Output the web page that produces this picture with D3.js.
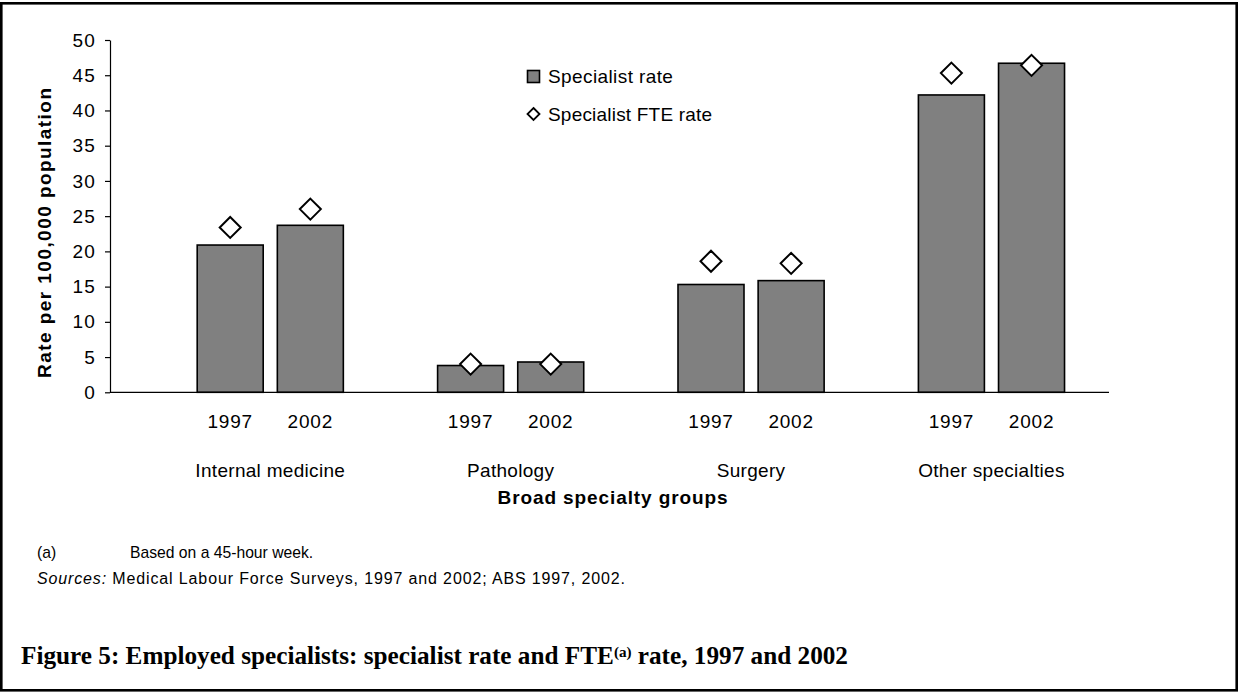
<!DOCTYPE html>
<html><head><meta charset="utf-8">
<script src="https://cdn.jsdelivr.net/npm/d3@7/dist/d3.min.js"></script>
<style>
html,body{margin:0;padding:0;background:#fff;}
svg{display:block;}
</style></head>
<body>
<svg id="chart" width="1238" height="693" font-family="Liberation Sans, Arial, sans-serif"></svg>
<script>
const groups = ["Internal medicine", "Pathology", "Surgery", "Other specialties"];
const years = ["1997", "2002"];
const specialistRate = [[20.9, 23.7], [3.8, 4.3], [15.3, 15.85], [42.2, 46.7]];
const fteRate = [[23.4, 26.0], [4.0, 4.0], [18.6, 18.3], [45.3, 46.4]];
const yTicks = [0, 5, 10, 15, 20, 25, 30, 35, 40, 45, 50];
const seriesNames = ["Specialist rate", "Specialist FTE rate"];

const SANS = "Liberation Sans, Arial, sans-serif";
const SERIF = "'Liberation Serif', 'DejaVu Serif', serif";

const svg = d3.select("#chart");
svg.append("rect").attr("x",1.3).attr("y",3.3).attr("width",1235.4).attr("height",687)
  .attr("fill","#fff").attr("stroke","#000").attr("stroke-width",2.6);

const plotLeft = 110, plotRight = 1109, plotTop = 40, plotBottom = 392.3;
const y = d3.scaleLinear().domain([0,50]).range([plotBottom, plotTop]);
const x0 = d3.scaleBand().domain(groups).range([plotLeft, 1071.6]);
const x1 = d3.scaleBand().domain(["", ...years]).range([0, x0.bandwidth()]);
const barW = 66;

// fit helper: stretch spacing so text reaches a target width
function fit(sel, target){
  const w = sel.node().getComputedTextLength();
  if (w < target) sel.attr("textLength", target).attr("lengthAdjust","spacing");
  return sel;
}

// y axis
const yAxis = svg.append("g").attr("transform",`translate(${plotLeft},0)`)
  .call(d3.axisLeft(y).tickValues(yTicks).tickSize(5).tickPadding(9).tickSizeOuter(0));
yAxis.attr("font-family", null).attr("font-size", null);
yAxis.select(".domain").attr("stroke","#000").attr("stroke-width",1.2);
yAxis.selectAll(".tick line").attr("stroke","#000").attr("stroke-width",1.2);
yAxis.selectAll(".tick text").style("font-size","19px").style("font-family",SANS)
  .style("letter-spacing","1.2px").attr("fill","#000");

// bars
groups.forEach((g,gi)=>{
  years.forEach((yr,yi)=>{
    const cx = x0(g) + x1(yr) + x1.bandwidth()/2;
    svg.append("rect").attr("x",cx-barW/2).attr("y",y(specialistRate[gi][yi]))
      .attr("width",barW).attr("height",y(0)-y(specialistRate[gi][yi]))
      .attr("fill","#808080").attr("stroke","#000").attr("stroke-width",1.6);
  });
});

// x axis line
svg.append("line").attr("x1",plotLeft).attr("x2",plotRight).attr("y1",y(0)).attr("y2",y(0))
  .attr("stroke","#000").attr("stroke-width",1.2);

// diamonds
const dr = 10.5;
const diamond = (cx,cy,r)=>`M${cx},${cy-r}L${cx+r},${cy}L${cx},${cy+r}L${cx-r},${cy}Z`;
groups.forEach((g,gi)=>{
  years.forEach((yr,yi)=>{
    const cx = x0(g) + x1(yr) + x1.bandwidth()/2;
    svg.append("path").attr("d",diamond(cx,y(fteRate[gi][yi]),dr))
      .attr("fill","#fff").attr("stroke","#000").attr("stroke-width",2);
  });
});

// year labels & group labels
groups.forEach((g,gi)=>{
  years.forEach((yr)=>{
    const cx = x0(g) + x1(yr) + x1.bandwidth()/2;
    svg.append("text").attr("x",cx).attr("y",428).attr("text-anchor","middle")
      .style("font-size","19px").style("letter-spacing","0.8px").text(yr);
  });
  const gc = x0(g) + x1("1997") + x1.bandwidth();
  svg.append("text").attr("x",gc).attr("y",477).attr("text-anchor","middle")
    .style("font-size","19px").style("letter-spacing","0.3px").text(g);
});

// axis titles
fit(svg.append("text").attr("transform","translate(51,233) rotate(-90)").attr("text-anchor","middle")
  .style("font-size","19px").style("font-weight","bold").text("Rate per 100,000 population"), 290);
svg.append("text").attr("x",613).attr("y",504).attr("text-anchor","middle")
  .style("font-size","19px").style("font-weight","bold").style("letter-spacing","0.9px").text("Broad specialty groups");

// legend
svg.append("rect").attr("x",527.5).attr("y",70.5).attr("width",12).attr("height",12)
  .attr("fill","#808080").attr("stroke","#000").attr("stroke-width",1.6);
svg.append("text").attr("x",548).attr("y",83).style("font-size","19px").style("letter-spacing","0.4px").text(seriesNames[0]);
svg.append("path").attr("d",diamond(533.5,114,6)).attr("fill","#fff").attr("stroke","#000").attr("stroke-width",1.8);
svg.append("text").attr("x",548).attr("y",121).style("font-size","19px").style("letter-spacing","0.2px").text(seriesNames[1]);

// footnotes
svg.append("text").attr("x",37).attr("y",558).style("font-size","15.7px").text("(a)");
svg.append("text").attr("x",130).attr("y",558).style("font-size","15.7px").text("Based on a 45-hour week.");
const src = svg.append("text").attr("x",37).attr("y",584).style("font-size","16px");
src.append("tspan").style("font-style","italic").text("Sources:");
src.append("tspan").text(" Medical Labour Force Surveys, 1997 and 2002; ABS 1997, 2002.");
fit(src, 588);

// title
const title = svg.append("text").attr("x",21).attr("y",664)
  .style("font-family",SERIF).style("font-weight","bold").style("font-size","22px");
title.append("tspan").text("Figure 5: Employed specialists: specialist rate and FTE");
title.append("tspan").style("font-size","13px").attr("dy",-7).text("(a)");
title.append("tspan").attr("dy",7).text(" rate, 1997 and 2002");
const tw = title.node().getComputedTextLength();
const tfs = 22 * 827 / tw;
title.style("font-size", Math.min(tfs, 26) + "px");
title.select("tspan:nth-child(2)").style("font-size", (Math.min(tfs,26)*0.6) + "px");
</script>
</body></html>
